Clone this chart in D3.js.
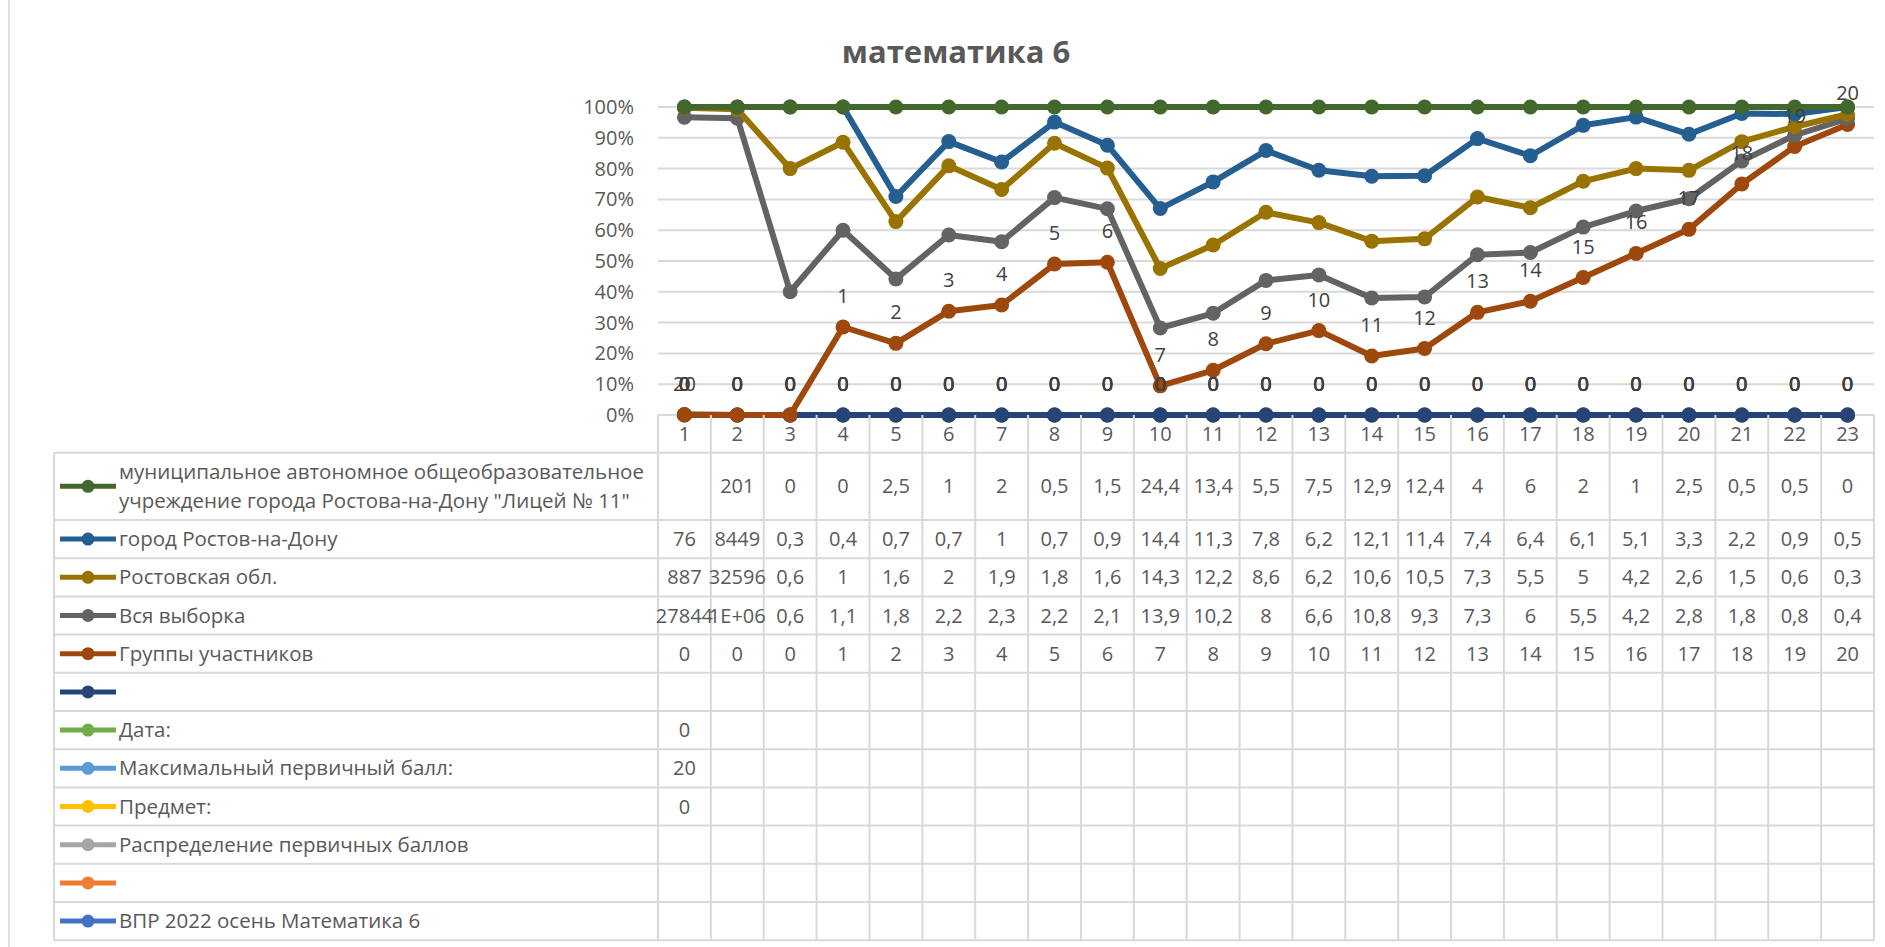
<!DOCTYPE html>
<html>
<head>
<meta charset="utf-8">
<script src="https://cdn.jsdelivr.net/npm/d3@7"></script>
<style>
    body { margin: 0; background: #fff; }
    svg { display: block; font-family: "Open Sans", sans-serif; }
</style>
</head>
<body>
<svg id="chart"></svg>
<script>
const title = "математика 6";
const categories = ["1", "2", "3", "4", "5", "6", "7", "8", "9", "10", "11", "12",
    "13", "14", "15", "16", "17", "18", "19", "20", "21", "22", "23"];

// series in Excel plotting order (the data table lists them reversed)
const seriesNames = [
    "ВПР 2022 осень Математика 6",
    "",
    "Распределение первичных баллов",
    "Предмет:",
    "Максимальный первичный балл:",
    "Дата:",
    "",
    "Группы участников",
    "Вся выборка",
    "Ростовская обл.",
    "город Ростов-на-Дону",
    "муниципальное автономное общеобразовательное\nучреждение города Ростова-на-Дону \"Лицей № 11\""
];
const seriesColors = ["#4472c4", "#ed7d31", "#a5a5a5", "#ffc000", "#5b9bd5", "#70ad47",
    "#264478", "#9e480e", "#636363", "#997300", "#255e91", "#43682b"];

const blank = categories.map(() => null);
const vprValues = blank;
const emptyOrangeValues = blank;
const distributionValues = blank;
const subjectValues = [0].concat(blank.slice(1));
const maxScoreValues = [20].concat(blank.slice(1));
const dateValues = [0].concat(blank.slice(1));
const emptyNavyValues = blank;
const groupValues = [0, 0, 0, 1, 2, 3, 4, 5, 6, 7, 8, 9, 10, 11, 12, 13, 14, 15, 16, 17, 18, 19, 20];
const allValues = [27844, 1100000, 0.6, 1.1, 1.8, 2.2, 2.3, 2.2, 2.1, 13.9, 10.2, 8, 6.6, 10.8, 9.3, 7.3, 6, 5.5, 4.2, 2.8, 1.8, 0.8, 0.4];
const regionValues = [887, 32596, 0.6, 1, 1.6, 2, 1.9, 1.8, 1.6, 14.3, 12.2, 8.6, 6.2, 10.6, 10.5, 7.3, 5.5, 5, 4.2, 2.6, 1.5, 0.6, 0.3];
const cityValues = [76, 8449, 0.3, 0.4, 0.7, 0.7, 1, 0.7, 0.9, 14.4, 11.3, 7.8, 6.2, 12.1, 11.4, 7.4, 6.4, 6.1, 5.1, 3.3, 2.2, 0.9, 0.5];
const schoolValues = [null, 201, 0, 0, 2.5, 1, 2, 0.5, 1.5, 24.4, 13.4, 5.5, 7.5, 12.9, 12.4, 4, 6, 2, 1, 2.5, 0.5, 0.5, 0];

const seriesValues = [vprValues, emptyOrangeValues, distributionValues, subjectValues, maxScoreValues,
    dateValues, emptyNavyValues, groupValues, allValues, regionValues, cityValues, schoolValues];
// series that carry data labels
const labelled = [0, 1, 2, 3, 4, 5, 6, 7];

const width = 1885;
const height = 947;
const plot = {left: 658, right: 1874, top: 107, bottom: 415};
const table = {left: 54, keyX1: 60, keyX2: 116, textX: 119, headerH: 37.7, firstRowH: 67.3, rowH: 38.2};
const gridColor = "#d9d9d9";
const textColor = "#595959";

const svg = d3.select("#chart")
    .attr("width", width)
    .attr("height", height);

// chart area border
svg.append("line")
    .attr("x1", 9).attr("x2", 9)
    .attr("y1", 0).attr("y2", height)
    .attr("stroke", gridColor)
    .attr("stroke-width", 1.5);

svg.append("text")
    .attr("x", 956)
    .attr("y", 63)
    .attr("text-anchor", "middle")
    .style("font-size", "31px")
    .style("font-weight", "bold")
    .style("fill", textColor)
    .text(title);

const x = d3.scaleBand().domain(categories).range([plot.left, plot.right]);
const y = d3.scaleLinear().domain([0, 1]).range([plot.bottom, plot.top]);
const cx = c => x(c) + x.bandwidth() / 2;

// gridlines
svg.append("g")
    .selectAll("line")
    .data(y.ticks(10))
    .join("line")
    .attr("x1", plot.left)
    .attr("x2", plot.right)
    .attr("y1", d => y(d))
    .attr("y2", d => y(d))
    .attr("stroke", gridColor)
    .attr("stroke-width", 2);

svg.append("g")
    .attr("transform", `translate(${plot.left - 24},0)`)
    .call(d3.axisLeft(y).ticks(10).tickFormat(d3.format(".0%")).tickSize(0).tickPadding(0))
    .call(g => g.select(".domain").remove())
    .call(g => g.selectAll("text")
        .style("font-family", "Open Sans")
        .style("font-size", "20px")
        .style("fill", textColor));

// 100% stacked lines (blanks count as zero)
const rows = categories.map((c, i) => {
    const o = {cat: c};
    seriesValues.forEach((v, k) => o[k] = v[i] ?? 0);
    return o;
});
const stacked = d3.stack()
    .keys(seriesValues.map((v, k) => k))
    .offset(d3.stackOffsetExpand)(rows);

const line = d3.line()
    .x(d => cx(d.data.cat))
    .y(d => y(d[1]));

const seriesG = svg.append("g")
    .selectAll("g")
    .data(stacked)
    .join("g");

seriesG.append("path")
    .attr("d", d => line(d))
    .attr("fill", "none")
    .attr("stroke", d => seriesColors[d.key])
    .attr("stroke-width", 6)
    .attr("stroke-linejoin", "round");

seriesG.selectAll("circle")
    .data(d => d.map(p => ({p: p, color: seriesColors[d.key]})))
    .join("circle")
    .attr("cx", d => cx(d.p.data.cat))
    .attr("cy", d => y(d.p[1]))
    .attr("r", 7.5)
    .attr("fill", d => d.color);

// data labels
const labelG = svg.append("g");
labelled.forEach(k => {
    labelG.append("g")
        .selectAll("text")
        .data(stacked[k])
        .join("text")
        .attr("x", d => cx(d.data.cat))
        .attr("y", d => y(d[1]) - 31)
        .attr("dy", "0.35em")
        .attr("text-anchor", "middle")
        .style("font-size", "20px")
        .style("fill", "#404040")
        .text((d, i) => seriesValues[k][i] ?? 0);
});

// data table
const fmt = v => {
    if (v === null) return "";
    if (v >= 1e6) return v.toExponential(0).replace("e+", "E+0");
    return String(v).replace(".", ",");
};
const order = d3.range(seriesValues.length).reverse();
const rowTops = [];
let yy = plot.bottom + table.headerH;
order.forEach((k, r) => {
    const h = r === 0 ? table.firstRowH : table.rowH;
    rowTops.push({k: k, top: yy, h: h});
    yy += h;
});
const tableBottom = yy;
const tg = svg.append("g");

// horizontal lines
tg.selectAll("line.h")
    .data(rowTops.map(r => r.top).concat([tableBottom]))
    .join("line")
    .attr("class", "h")
    .attr("x1", table.left)
    .attr("x2", plot.right)
    .attr("y1", d => d)
    .attr("y2", d => d)
    .attr("stroke", gridColor)
    .attr("stroke-width", 2);

// vertical lines
tg.selectAll("line.v")
    .data(d3.range(categories.length + 1))
    .join("line")
    .attr("class", "v")
    .attr("x1", i => plot.left + i * x.step())
    .attr("x2", i => plot.left + i * x.step())
    .attr("y1", plot.bottom)
    .attr("y2", tableBottom)
    .attr("stroke", gridColor)
    .attr("stroke-width", 2);
tg.append("line")
    .attr("x1", table.left).attr("x2", table.left)
    .attr("y1", plot.bottom + table.headerH).attr("y2", tableBottom)
    .attr("stroke", gridColor)
    .attr("stroke-width", 2);

// category labels
tg.selectAll("text.cat")
    .data(categories)
    .join("text")
    .attr("class", "cat")
    .attr("x", d => cx(d))
    .attr("y", plot.bottom + table.headerH / 2)
    .attr("dy", "0.35em")
    .attr("text-anchor", "middle")
    .style("font-size", "20px")
    .style("fill", textColor)
    .text(d => d);

const rowG = tg.selectAll("g.row")
    .data(rowTops)
    .join("g")
    .attr("class", "row")
    .attr("transform", d => `translate(0,${d.top + d.h / 2})`);

rowG.append("line")
    .attr("x1", table.keyX1)
    .attr("x2", table.keyX2)
    .attr("stroke", d => seriesColors[d.k])
    .attr("stroke-width", 5);
rowG.append("circle")
    .attr("cx", (table.keyX1 + table.keyX2) / 2)
    .attr("r", 6.5)
    .attr("fill", d => seriesColors[d.k]);

rowG.each(function (d) {
    const g = d3.select(this);
    const lines = seriesNames[d.k].split("\n");
    g.append("text")
        .attr("x", table.textX)
        .style("font-size", "20.5px")
        .style("fill", textColor)
        .selectAll("tspan")
        .data(lines)
        .join("tspan")
        .attr("x", table.textX)
        .attr("y", (t, i) => (i - (lines.length - 1) / 2) * 29)
        .attr("dy", "0.35em")
        .text(t => t);
    g.selectAll("text.val")
        .data(seriesValues[d.k])
        .join("text")
        .attr("class", "val")
        .attr("x", (v, i) => cx(categories[i]))
        .attr("dy", "0.35em")
        .attr("text-anchor", "middle")
        .style("font-size", "20px")
        .style("fill", textColor)
        .text(v => fmt(v));
});
</script>
</body>
</html>
